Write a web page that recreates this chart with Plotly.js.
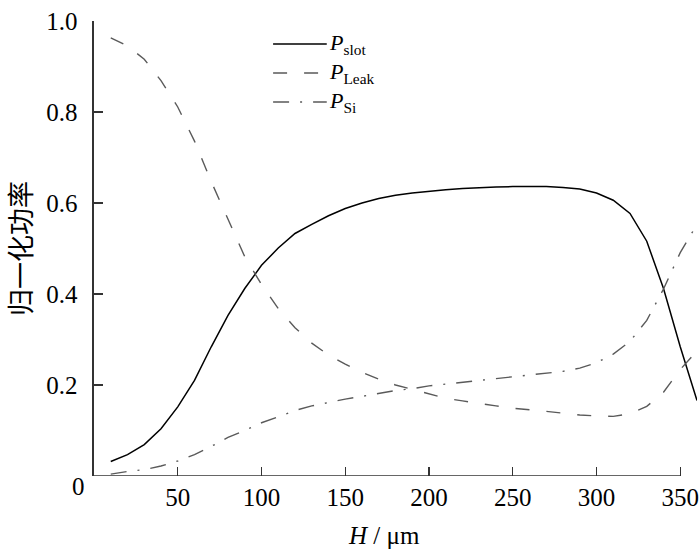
<!DOCTYPE html>
<html>
<head>
<meta charset="utf-8">
<script src="https://cdn.plot.ly/plotly-3.0.1.min.js"></script>
<style>
  html, body { margin: 0; padding: 0; background: #fff; }
  #chart { width: 700px; height: 551px; }
</style>
</head>
<body>
<div id="chart"></div>
<script>
// H in um, one sample every 10 um
const hValues = [10, 20, 30, 40, 50, 60, 70, 80, 90, 100, 110, 120, 130, 140, 150, 160, 170, 180,
                 190, 200, 210, 220, 230, 240, 250, 260, 270, 280, 290, 300, 310, 320, 330, 340, 350, 360];

// normalised power
const pSlot = [0.032, 0.047, 0.069, 0.104, 0.152, 0.210, 0.284, 0.353, 0.412, 0.463, 0.501, 0.533,
               0.553, 0.572, 0.588, 0.600, 0.610, 0.617, 0.622, 0.626, 0.629, 0.632, 0.634, 0.635,
               0.636, 0.636, 0.636, 0.634, 0.631, 0.622, 0.606, 0.577, 0.516, 0.412, 0.284, 0.166];
const pLeak = [0.963, 0.945, 0.916, 0.869, 0.811, 0.736, 0.647, 0.564, 0.482, 0.421, 0.368, 0.326,
               0.292, 0.266, 0.246, 0.228, 0.213, 0.200, 0.190, 0.181, 0.171, 0.165, 0.159, 0.154,
               0.149, 0.146, 0.142, 0.138, 0.134, 0.132, 0.131, 0.137, 0.153, 0.184, 0.234, 0.275];
const pSi   = [0.004, 0.010, 0.014, 0.022, 0.033, 0.047, 0.065, 0.085, 0.100, 0.117, 0.130, 0.144,
               0.154, 0.162, 0.169, 0.175, 0.181, 0.188, 0.192, 0.198, 0.202, 0.206, 0.209, 0.213,
               0.218, 0.222, 0.226, 0.230, 0.237, 0.249, 0.268, 0.296, 0.342, 0.411, 0.491, 0.553];

const seriesNames = ['<i>P</i><sub>slot</sub>', '<i>P</i><sub>Leak</sub>', '<i>P</i><sub>Si</sub>'];
const xTickVals = [50, 100, 150, 200, 250, 300, 350];
const yTickVals = [0.2, 0.4, 0.6, 0.8, 1.0];
const xTitle = '<i>H</i> / μm';
const yTitle = '归一化功率';

const SERIF = 'Liberation Serif';
const CJK = 'Noto Sans CJK SC';
const AXIS_COLOR = '#333';
const DASH = '14px,17px';
const DASHDOT = '16px,11px,2px,11px';

const styles = [
  { color: '#000000', width: 1.5, dash: 'solid' },
  { color: '#5a5a5a', width: 1.4, dash: DASH },
  { color: '#5a5a5a', width: 1.4, dash: DASHDOT }
];

const seriesData = [pSlot, pLeak, pSi];

const traces = seriesData.map((vals, i) => ({
  type: 'scatter',
  mode: 'lines',
  name: seriesNames[i],
  x: hValues,
  y: vals,
  line: styles[i],
  hoverinfo: 'x+y'
}));

// hand-drawn legend, the sample lines are longer than plotly's
const legendX0 = 0.297, legendX1 = 0.386;
const legendRows = [0.9495, 0.8857, 0.822];

const shapes = [
  // x axis line stops at the last tick, the curves run on past it
  { type: 'line', xref: 'x', yref: 'y', layer: 'above',
    x0: 0, x1: xTickVals[xTickVals.length - 1], y0: 0, y1: 0,
    line: { color: AXIS_COLOR, width: 1.6 } }
];
legendRows.forEach((y, i) => {
  shapes.push({ type: 'line', xref: 'paper', yref: 'paper',
    x0: legendX0, x1: legendX1, y0: y, y1: y,
    line: { color: styles[i].color, width: styles[i].width, dash: styles[i].dash } });
});

const annotations = legendRows.map((y, i) => ({
  xref: 'paper', yref: 'paper', x: legendX1, y: y,
  xanchor: 'left', yanchor: 'middle', showarrow: false,
  text: seriesNames[i],
  font: { family: SERIF, size: 22, color: '#000' }
}));

// shared origin label below the corner, and the x title centred under the drawn axis line
annotations.push(
  { xref: 'paper', yref: 'paper', x: -0.025, y: -0.024, xanchor: 'center', yanchor: 'middle',
    showarrow: false, text: '0', font: { family: SERIF, size: 25, color: '#000' } },
  { xref: 'paper', yref: 'paper', x: 0.481, y: -0.13, xanchor: 'center', yanchor: 'middle',
    showarrow: false, text: xTitle, font: { family: SERIF, size: 25, color: '#000' } }
);

const layout = {
  width: 700,
  height: 551,
  margin: { l: 94, r: 3, t: 21, b: 75 },
  paper_bgcolor: '#fff',
  plot_bgcolor: '#fff',
  showlegend: false,
  font: { family: SERIF, size: 25, color: '#000' },
  xaxis: {
    range: [0, 360],
    showline: false,
    showgrid: false,
    zeroline: false,
    tickvals: xTickVals,
    ticks: 'inside',
    ticklen: 9,
    tickwidth: 1.4,
    tickcolor: AXIS_COLOR,
    ticklabelstandoff: 4,
    tickfont: { family: SERIF, size: 25, color: '#000' }
  },
  yaxis: {
    range: [0, 1],
    showline: true,
    linecolor: AXIS_COLOR,
    linewidth: 1.6,
    showgrid: false,
    zeroline: false,
    tickvals: yTickVals,
    tickformat: '.1f',
    ticks: 'inside',
    ticklen: 9,
    tickwidth: 1.4,
    tickcolor: AXIS_COLOR,
    ticklabelstandoff: 10,
    tickfont: { family: SERIF, size: 25, color: '#000' },
    title: { text: yTitle, standoff: 12, font: { family: CJK, size: 27, color: '#000' } }
  },
  shapes: shapes,
  annotations: annotations
};

Plotly.newPlot('chart', traces, layout, { displayModeBar: false, staticPlot: true });
</script>
</body>
</html>
